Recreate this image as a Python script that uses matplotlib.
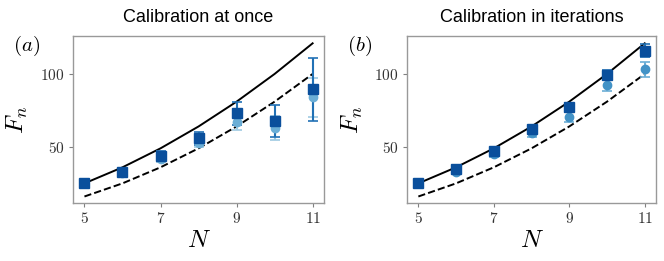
import numpy as np
import matplotlib
matplotlib.use("Agg")
import matplotlib.pyplot as plt

plt.rcParams['mathtext.fontset'] = 'cm'

N = [5, 6, 7, 8, 9, 10, 11]
upper = [25, 36, 49, 64, 81, 100, 121]   # N^2
lower = [16, 25, 36, 49, 64, 81, 100]    # (N-1)^2

# calibration at once
once_sq = [25, 32.5, 44, 56, 73, 68, 89.5]
once_sq_err = [1, 2, 3, 4.5, 8, 11, 21.7]
once_ci = [25, 32, 41.6, 52.5, 67.4, 63, 84]
once_ci_err = [0.5, 1.5, 2, 2.5, 5.8, 8, 13.5]

# calibration in iterations
iter_sq = [25.5, 34.7, 47.3, 62.1, 77.2, 99.3, 115.8]
iter_sq_err = [1, 1.5, 2, 2.5, 3, 3.5, 4.5]
iter_ci = [25, 33.1, 45.2, 59.4, 70.8, 92.5, 103.2]
iter_ci_err = [0.8, 1.5, 2, 2.5, 4, 4, 5]

titles = ["Calibration at once", "Calibration in iterations"]
panels = ["$(a)$", "$(b)$"]

fig = plt.figure(figsize=(6.64, 2.61), dpi=100)
ax1 = fig.add_axes([0.110, 0.222, 0.378, 0.640])
ax2 = fig.add_axes([0.613, 0.222, 0.375, 0.640])

data = [(once_sq, once_sq_err, once_ci, once_ci_err, '#6baed6', '#9ecae1'),
        (iter_sq, iter_sq_err, iter_ci, iter_ci_err, '#4292c6', '#6baed6')]

for ax, (sq, sqe, ci, cie, ccol, cecol), title, lab in zip([ax1, ax2], data, titles, panels):
    ax.plot(N, upper, color='black', lw=1.4)
    ax.plot(N, lower, color='black', lw=1.4, ls='--')
    ax.errorbar(N, ci, yerr=cie, fmt='o', color=ccol, ecolor=cecol,
                ms=6, capsize=3.5, elinewidth=1.5, capthick=1.2)
    ax.errorbar(N, sq, yerr=sqe, fmt='s', color='#0a4f9c', ecolor='#2171b5',
                ms=6.8, capsize=3.5, elinewidth=1.5, capthick=1.2)
    ax.set_xlim(4.7, 11.3)
    ax.set_ylim(11.5, 126)
    ax.set_xticks([5, 7, 9, 11])
    ax.set_xticklabels(['$5$', '$7$', '$9$', '$11$'])
    ax.set_yticks([50, 100])
    ax.set_yticklabels(['$50$', '$100$'])
    ax.tick_params(labelsize=11, length=3, color='#808080', labelcolor='#333333', pad=3)
    for s in ax.spines.values():
        s.set_color('#999999')
        s.set_linewidth(1.0)
    ax.set_xlabel('$N$', fontsize=18)
    ax.set_ylabel('$F_n$', fontsize=18)
    ax.xaxis.set_label_coords(0.5, -0.15)
    ax.yaxis.set_label_coords(-0.17, 0.5)
    ax.set_title(title, fontsize=13, family='Liberation Sans', pad=10)
    ax.text(-0.24, 0.94, lab, transform=ax.transAxes, fontsize=15, va='center', ha='left')

fig.savefig('out.png', dpi=100)
